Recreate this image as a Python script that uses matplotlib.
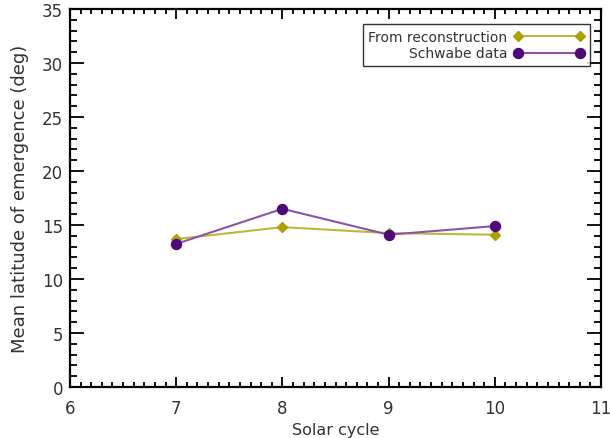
import matplotlib
matplotlib.use("Agg")
import matplotlib.pyplot as plt
from matplotlib.ticker import MultipleLocator

# mean emergence latitude per solar cycle
cycles = [7, 8, 9, 10]
recon_lat = [13.7, 14.8, 14.25, 14.1]
schwabe_lat = [13.25, 16.5, 14.1, 14.9]

xticks = [6, 7, 8, 9, 10, 11]
yticks = [0, 5, 10, 15, 20, 25, 30, 35]

plt.rcParams['font.family'] = ['DejaVu Sans']
txt_color = '#333333'

fig = plt.figure(figsize=(6.1, 4.39), dpi=100)
ax = fig.add_axes([70 / 610, 1 - 388 / 439, 531 / 610, 378 / 439])

ax.plot(cycles, recon_lat, color='#bdb83c', lw=1.5, marker='D', ms=5,
        mfc='#aba200', mec='#aba200', label='From reconstruction')
ax.plot(cycles, schwabe_lat, color='#8a55a8', lw=1.5, marker='o', ms=7.2,
        mfc='#4d0a78', mec='#4d0a78', label='Schwabe data')

ax.set_xlim(6, 11)
ax.set_ylim(0, 35)
ax.set_xticks(xticks)
ax.set_yticks(yticks)
ax.xaxis.set_minor_locator(MultipleLocator(0.1))
ax.yaxis.set_minor_locator(MultipleLocator(1))
ax.tick_params(which='both', direction='in', top=True, right=True,
               width=1.3, colors='black', labelcolor=txt_color, labelsize=12)
ax.tick_params(axis='y', which='major', length=10, pad=5)
ax.tick_params(axis='y', which='minor', length=5)
ax.tick_params(axis='x', which='major', length=7, pad=9)
ax.tick_params(axis='x', which='minor', length=3.5)
for sp in ax.spines.values():
    sp.set_linewidth(1.6)

ax.set_xlabel('Solar cycle', fontsize=11.5, color=txt_color, labelpad=3)
ax.set_ylabel('Mean latitude of emergence (deg)', fontsize=13,
              color=txt_color, labelpad=9)

leg = ax.legend(loc='upper right', bbox_to_anchor=(0.979, 0.96),
                markerfirst=False, numpoints=2, handlelength=5.1,
                fontsize=10, frameon=True, fancybox=False, borderpad=0.4,
                labelspacing=0.2, handletextpad=0.45, borderaxespad=0)
leg.get_frame().set_edgecolor('black')
leg.get_frame().set_linewidth(1.0)
for t in leg.get_texts():
    t.set_color(txt_color)

fig.savefig('out.png', dpi=100)
